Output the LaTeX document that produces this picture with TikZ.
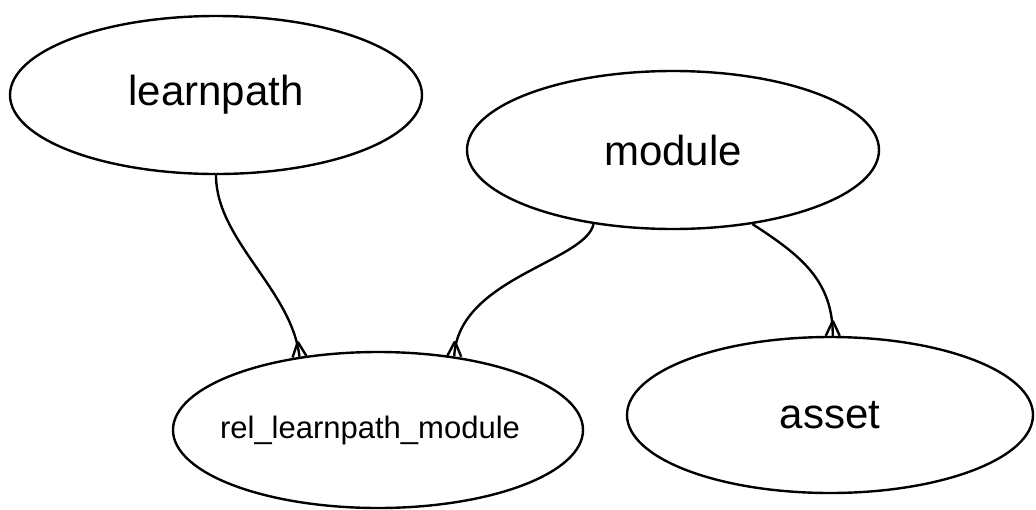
\documentclass[tikz,border=0pt]{standalone}
\usepackage{fontspec}
\setmainfont{Liberation Sans}
\usetikzlibrary{shapes.geometric,decorations.markings}
\begin{document}
\begin{tikzpicture}[x=1pt,y=-1pt,
  ent/.style={draw=black, line width=2.4pt, ellipse, inner sep=0pt, minimum width=412pt, minimum height=158pt, font=\fontsize{42}{42}\selectfont},
  link/.style={draw=black, line width=2.4pt},
  crowfoot/.style={postaction={decorate}, decoration={markings, mark=at position 0.9999 with {\draw[line width=2.4pt] (-15pt,0) -- (0,7pt); \draw[line width=2.4pt] (-15pt,0) -- (0,-7pt);}}}
]
\useasboundingbox (0,0) rectangle (1036,509);
\node[ent] (learnpath) at (216,95) {learnpath};
\node[ent] (module) at (673,150) {module};
\node[ent, minimum width=410pt, minimum height=156pt, font=\fontsize{31}{31}\selectfont] (rel) at (378,430) {\makebox[0pt][c]{\hspace*{-16pt}rel\_learnpath\_module}};
\node[ent, minimum width=406pt, minimum height=156pt] (asset) at (830,415) {asset};
\draw[link, crowfoot] (learnpath.south) .. controls (216,240) and (292,290) .. (rel.137);
\draw[link, crowfoot] (module.223) .. controls (585,262) and (458,278) .. (rel.44);
\draw[link, crowfoot] (module.317) .. controls (800,255) and (833,280) .. (asset.88);
\end{tikzpicture}
\end{document}
